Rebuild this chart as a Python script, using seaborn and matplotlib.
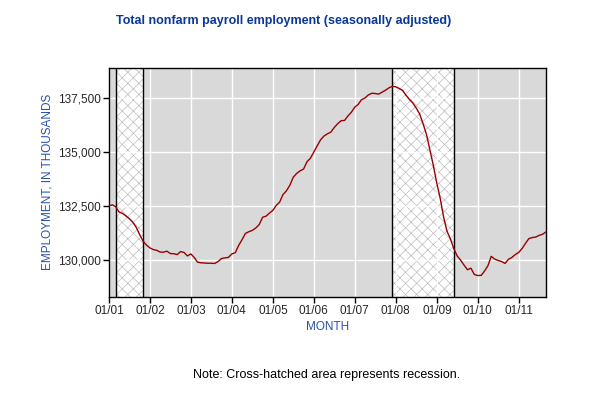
import pandas as pd
import matplotlib
matplotlib.use("Agg")
import matplotlib.pyplot as plt
import matplotlib.dates as mdates
import matplotlib.ticker as mticker
import seaborn as sns

# monthly total nonfarm payroll, thousands (Jan 2001 - Sep 2011)
payroll = [
    132530, 132560, 132480, 132230, 132170, 132050, 131920, 131760, 131520, 131190, 130880, 130700,
    130570, 130490, 130460, 130380, 130370, 130420, 130310, 130300, 130260, 130400, 130360, 130200,
    130290, 130120, 129910, 129880, 129870, 129860, 129860, 129850, 129940, 130080, 130110, 130130,
    130290, 130350, 130680, 130950, 131240, 131320, 131380, 131490, 131650, 131990, 132040, 132180,
    132310, 132550, 132680, 133040, 133210, 133470, 133840, 134020, 134140, 134220, 134560, 134720,
    135010, 135290, 135570, 135750, 135850, 135930, 136140, 136320, 136460, 136470, 136680, 136850,
    137090, 137220, 137430, 137510, 137650, 137730, 137720, 137690, 137780, 137870, 137980, 138050,
    138030, 137950, 137870, 137640, 137450, 137280, 137050, 136770, 136310, 135820, 135080, 134380,
    133560, 132840, 132030, 131350, 131000, 130540, 130200, 130000, 129770, 129560, 129630, 129340,
    129290, 129300, 129490, 129740, 130180, 130050, 129990, 129940, 129850, 130040, 130130, 130260,
    130360, 130550, 130770, 131000, 131050, 131070, 131150, 131200, 131310,
]
months = pd.date_range("2001-01-01", periods=len(payroll), freq="MS")
recessions = [("2001-03-01", "2001-11-01"), ("2007-12-01", "2009-06-01")]

df = pd.DataFrame({"month": months, "payroll": payroll})

sns.set_style("whitegrid", {"axes.facecolor": "#d9d9d9", "grid.color": "white",
                            "axes.edgecolor": "black", "xtick.bottom": True, "ytick.left": True})
plt.rcParams["font.family"] = ["Liberation Sans", "DejaVu Sans"]
plt.rcParams["hatch.color"] = "#bcbcbc"
plt.rcParams["hatch.linewidth"] = 0.5

fig = plt.figure(figsize=(6, 4), dpi=100)
ax = fig.add_axes([109 / 600, 1 - 296.5 / 400, 437 / 600, 228.5 / 400])

for start, end in recessions:
    ax.axvspan(pd.Timestamp(start), pd.Timestamp(end), facecolor="white", hatch="xxx",
               edgecolor="#bcbcbc", linewidth=0, zorder=0.5)
    ax.axvline(pd.Timestamp(start), color="black", lw=1, zorder=1)
    ax.axvline(pd.Timestamp(end), color="black", lw=1, zorder=1)

sns.lineplot(data=df, x="month", y="payroll", ax=ax, color="#990000", lw=1.0, zorder=3)

ax.set_xlim(months[0], months[-1])
ax.set_ylim(128320, 138900)
ax.yaxis.set_major_locator(mticker.MultipleLocator(2500))
ax.yaxis.set_major_formatter(mticker.StrMethodFormatter("{x:,.0f}"))
ax.xaxis.set_major_locator(mdates.YearLocator())
ax.xaxis.set_major_formatter(mdates.DateFormatter("%m/%y"))
ax.tick_params(axis="both", length=4, width=1, color="black", labelsize=8.5, pad=2)
ax.grid(True, color="white", lw=1)
ax.set_axisbelow(True)
for s in ax.spines.values():
    s.set_linewidth(1)

ax.set_xlabel("MONTH", color="#2a52a8", fontsize=8.5, labelpad=3)
ax.set_ylabel("EMPLOYMENT, IN THOUSANDS", color="#2a52a8", fontsize=8.5, labelpad=3)

fig.text(284 / 600, 1 - 21 / 400, "Total nonfarm payroll employment (seasonally adjusted)",
         ha="center", va="center", color="#0a3896", fontsize=9, fontweight="bold")
fig.text(327 / 600, 1 - 375 / 400, "Note: Cross-hatched area represents recession.",
         ha="center", va="center", color="black", fontsize=9)

fig.savefig("out.png", dpi=100)
